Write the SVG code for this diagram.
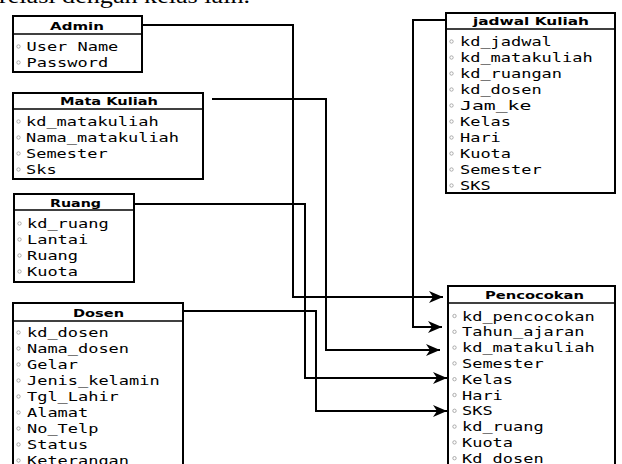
<svg xmlns="http://www.w3.org/2000/svg" width="622" height="464" viewBox="0 0 622 464">
<style>
.box{fill:#fff;stroke:#000;stroke-width:2}
.sep{stroke:#000;stroke-width:1.5}
.hd{font-family:"DejaVu Sans",sans-serif;font-weight:bold;font-size:10.5px;fill:#000}
.at{font-family:"DejaVu Sans Mono",monospace;font-size:12.5px;fill:#000}
.bl{fill:#fff;stroke:#999;stroke-width:0.8}
.cn{fill:none;stroke:#000;stroke-width:2}
.top{font-family:"Liberation Serif",serif;font-size:22px;fill:#000}
</style>
<defs>
<marker id="arr" markerUnits="userSpaceOnUse" markerWidth="15" markerHeight="12" refX="14" refY="6" orient="auto">
<path d="M0,0 L14,6 L0,12 L4,6 z" fill="#000"/>
</marker>
</defs>
<rect width="622" height="464" fill="#fff"/>
<text class="top" x="-1" y="3" textLength="251" lengthAdjust="spacingAndGlyphs">relasi dengan kelas lain.</text>

<g id="connectors">
<path class="cn" d="M142,25 H293 V297 H443" marker-end="url(#arr)"/>
<path class="cn" d="M212,99 H326 V350 H440" marker-end="url(#arr)"/>
<path class="cn" d="M134,204 H305 V378 H447" marker-end="url(#arr)"/>
<path class="cn" d="M183,311 H316 V411 H447" marker-end="url(#arr)"/>
<path class="cn" d="M446,20 H413 V327 H442" marker-end="url(#arr)"/>
</g>

<g id="admin">
<rect class="box" x="13" y="16" width="129" height="56"/>
<line class="sep" x1="13" y1="34" x2="142" y2="34"/>
<text class="hd" x="50" y="30" textLength="54" lengthAdjust="spacingAndGlyphs">Admin</text>
<circle class="bl" cx="18.5" cy="46.5" r="1.7"/><text class="at" x="26.5" y="51" textLength="91.8" lengthAdjust="spacingAndGlyphs">User Name</text>
<circle class="bl" cx="18.5" cy="62.5" r="1.7"/><text class="at" x="26.5" y="67" textLength="81.6" lengthAdjust="spacingAndGlyphs">Password</text>
</g>

<g id="mata-kuliah">
<rect class="box" x="13" y="93" width="190" height="86"/>
<line class="sep" x1="13" y1="109" x2="203" y2="109"/>
<text class="hd" x="60" y="105" textLength="98" lengthAdjust="spacingAndGlyphs">Mata Kuliah</text>
<circle class="bl" cx="18.5" cy="121.5" r="1.7"/><text class="at" x="26" y="126" textLength="132.6" lengthAdjust="spacingAndGlyphs">kd_matakuliah</text>
<circle class="bl" cx="18.5" cy="137.5" r="1.7"/><text class="at" x="26" y="142" textLength="153" lengthAdjust="spacingAndGlyphs">Nama_matakuliah</text>
<circle class="bl" cx="18.5" cy="153.5" r="1.7"/><text class="at" x="26" y="158" textLength="81.6" lengthAdjust="spacingAndGlyphs">Semester</text>
<circle class="bl" cx="18.5" cy="169.5" r="1.7"/><text class="at" x="26" y="174" textLength="30.6" lengthAdjust="spacingAndGlyphs">Sks</text>
</g>

<g id="ruang">
<rect class="box" x="14" y="194" width="120" height="88"/>
<line class="sep" x1="14" y1="210" x2="134" y2="210"/>
<text class="hd" x="50" y="206.5" textLength="51" lengthAdjust="spacingAndGlyphs">Ruang</text>
<circle class="bl" cx="19.5" cy="223.5" r="1.7"/><text class="at" x="27" y="228" textLength="81.6" lengthAdjust="spacingAndGlyphs">kd_ruang</text>
<circle class="bl" cx="19.5" cy="239.5" r="1.7"/><text class="at" x="27" y="244" textLength="61.2" lengthAdjust="spacingAndGlyphs">Lantai</text>
<circle class="bl" cx="19.5" cy="255.5" r="1.7"/><text class="at" x="27" y="260" textLength="51" lengthAdjust="spacingAndGlyphs">Ruang</text>
<circle class="bl" cx="19.5" cy="271.5" r="1.7"/><text class="at" x="27" y="276" textLength="51" lengthAdjust="spacingAndGlyphs">Kuota</text>
</g>

<g id="dosen">
<rect class="box" x="13" y="303" width="170" height="200"/>
<line class="sep" x1="13" y1="321" x2="183" y2="321"/>
<text class="hd" x="73" y="317" textLength="51" lengthAdjust="spacingAndGlyphs">Dosen</text>
<circle class="bl" cx="18.5" cy="332.5" r="1.7"/><text class="at" x="27" y="337" textLength="81.6" lengthAdjust="spacingAndGlyphs">kd_dosen</text>
<circle class="bl" cx="18.5" cy="348.5" r="1.7"/><text class="at" x="27" y="353" textLength="102" lengthAdjust="spacingAndGlyphs">Nama_dosen</text>
<circle class="bl" cx="18.5" cy="364.5" r="1.7"/><text class="at" x="27" y="369" textLength="51" lengthAdjust="spacingAndGlyphs">Gelar</text>
<circle class="bl" cx="18.5" cy="380.5" r="1.7"/><text class="at" x="27" y="385" textLength="132.6" lengthAdjust="spacingAndGlyphs">Jenis_kelamin</text>
<circle class="bl" cx="18.5" cy="396.5" r="1.7"/><text class="at" x="27" y="401" textLength="91.8" lengthAdjust="spacingAndGlyphs">Tgl_Lahir</text>
<circle class="bl" cx="18.5" cy="412.5" r="1.7"/><text class="at" x="27" y="417" textLength="61.2" lengthAdjust="spacingAndGlyphs">Alamat</text>
<circle class="bl" cx="18.5" cy="428.5" r="1.7"/><text class="at" x="27" y="433" textLength="71.4" lengthAdjust="spacingAndGlyphs">No_Telp</text>
<circle class="bl" cx="18.5" cy="444.5" r="1.7"/><text class="at" x="27" y="449" textLength="61.2" lengthAdjust="spacingAndGlyphs">Status</text>
<circle class="bl" cx="18.5" cy="460.5" r="1.7"/><text class="at" x="27" y="465" textLength="102" lengthAdjust="spacingAndGlyphs">Keterangan</text>
</g>

<g id="jadwal-kuliah">
<rect class="box" x="446" y="13" width="169" height="180"/>
<line class="sep" x1="446" y1="29" x2="615" y2="29"/>
<text class="hd" x="473" y="25" textLength="116" lengthAdjust="spacingAndGlyphs">jadwal Kuliah</text>
<circle class="bl" cx="451.5" cy="41.5" r="1.7"/><text class="at" x="460" y="46" textLength="91.8" lengthAdjust="spacingAndGlyphs">kd_jadwal</text>
<circle class="bl" cx="451.5" cy="57.5" r="1.7"/><text class="at" x="460" y="62" textLength="132.6" lengthAdjust="spacingAndGlyphs">kd_matakuliah</text>
<circle class="bl" cx="451.5" cy="73.5" r="1.7"/><text class="at" x="460" y="78" textLength="102" lengthAdjust="spacingAndGlyphs">kd_ruangan</text>
<circle class="bl" cx="451.5" cy="89.5" r="1.7"/><text class="at" x="460" y="94" textLength="81.6" lengthAdjust="spacingAndGlyphs">kd_dosen</text>
<circle class="bl" cx="451.5" cy="105.5" r="1.7"/><text class="at" x="460" y="110" textLength="71.4" lengthAdjust="spacingAndGlyphs">Jam_ke</text>
<circle class="bl" cx="451.5" cy="121.5" r="1.7"/><text class="at" x="460" y="126" textLength="51" lengthAdjust="spacingAndGlyphs">Kelas</text>
<circle class="bl" cx="451.5" cy="137.5" r="1.7"/><text class="at" x="460" y="142" textLength="40.8" lengthAdjust="spacingAndGlyphs">Hari</text>
<circle class="bl" cx="451.5" cy="153.5" r="1.7"/><text class="at" x="460" y="158" textLength="51" lengthAdjust="spacingAndGlyphs">Kuota</text>
<circle class="bl" cx="451.5" cy="169.5" r="1.7"/><text class="at" x="460" y="174" textLength="81.6" lengthAdjust="spacingAndGlyphs">Semester</text>
<circle class="bl" cx="451.5" cy="185.5" r="1.7"/><text class="at" x="460" y="190" textLength="30.6" lengthAdjust="spacingAndGlyphs">SKS</text>
</g>

<g id="pencocokan">
<rect class="box" x="448" y="286" width="167" height="200"/>
<line class="sep" x1="448" y1="303" x2="615" y2="303"/>
<text class="hd" x="485" y="299" textLength="99" lengthAdjust="spacingAndGlyphs">Pencocokan</text>
<circle class="bl" cx="454.5" cy="316" r="1.7"/><text class="at" x="462" y="320.5" textLength="132.6" lengthAdjust="spacingAndGlyphs">kd_pencocokan</text>
<circle class="bl" cx="454.5" cy="331.8" r="1.7"/><text class="at" x="462" y="336.3" textLength="122.4" lengthAdjust="spacingAndGlyphs">Tahun_ajaran</text>
<circle class="bl" cx="454.5" cy="347.6" r="1.7"/><text class="at" x="462" y="352.1" textLength="132.6" lengthAdjust="spacingAndGlyphs">kd_matakuliah</text>
<circle class="bl" cx="454.5" cy="363.4" r="1.7"/><text class="at" x="462" y="367.9" textLength="81.6" lengthAdjust="spacingAndGlyphs">Semester</text>
<circle class="bl" cx="454.5" cy="379.2" r="1.7"/><text class="at" x="462" y="383.7" textLength="51" lengthAdjust="spacingAndGlyphs">Kelas</text>
<circle class="bl" cx="454.5" cy="395" r="1.7"/><text class="at" x="462" y="399.5" textLength="40.8" lengthAdjust="spacingAndGlyphs">Hari</text>
<circle class="bl" cx="454.5" cy="410.8" r="1.7"/><text class="at" x="462" y="415.3" textLength="30.6" lengthAdjust="spacingAndGlyphs">SKS</text>
<circle class="bl" cx="454.5" cy="426.6" r="1.7"/><text class="at" x="462" y="431.1" textLength="81.6" lengthAdjust="spacingAndGlyphs">kd_ruang</text>
<circle class="bl" cx="454.5" cy="442.4" r="1.7"/><text class="at" x="462" y="446.9" textLength="51" lengthAdjust="spacingAndGlyphs">Kuota</text>
<circle class="bl" cx="454.5" cy="458.2" r="1.7"/><text class="at" x="462" y="462.7" textLength="81.6" lengthAdjust="spacingAndGlyphs">Kd_dosen</text>
</g>
</svg>
